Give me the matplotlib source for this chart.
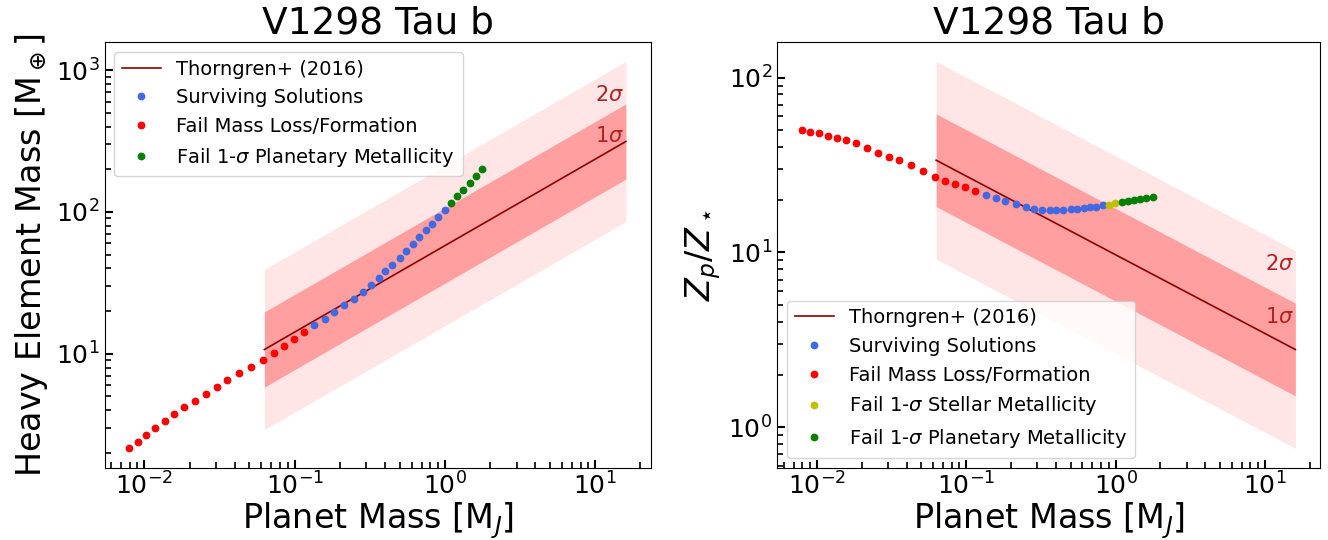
import numpy as np
import matplotlib
matplotlib.use("Agg")
import matplotlib.pyplot as plt

# ---------------- data ----------------
planet_mass = [0.00795, 0.00901, 0.01028, 0.01184, 0.01365, 0.01573, 0.01834, 0.02161,
               0.02572, 0.03031, 0.03570, 0.04254, 0.05122, 0.06166, 0.07265, 0.08465,
               0.09864, 0.1150,
               0.1354, 0.1586, 0.1829, 0.2143, 0.2497, 0.2862, 0.3228, 0.3620,
               0.4015, 0.4479, 0.4995, 0.5513, 0.6115, 0.6748, 0.7444, 0.8214,
               0.9063, 0.9945,
               1.097, 1.211, 1.329, 1.466, 1.609, 1.775]

heavy_mass = [2.153, 2.399, 2.688, 2.995, 3.354, 3.737, 4.185, 4.665,
              5.225, 5.821, 6.486, 7.265, 8.093, 9.07, 10.10, 11.32,
              12.61, 14.13,
              15.83, 17.64, 19.65, 22.00, 24.51, 27.46, 30.59, 34.28,
              38.18, 42.55, 47.67, 53.11, 59.49, 66.63, 74.23, 82.73,
              92.67, 103.2,
              115.7, 128.9, 143.6, 160.8, 179.2, 200.8]

z_ratio = [49.8, 48.9, 47.9, 46.6, 45.2, 43.7, 42.0, 39.7,
           37.1, 35.1, 33.6, 31.6, 29.1, 27.1, 25.6, 24.5,
           23.6, 22.5,
           21.3, 20.4, 19.8, 18.8, 18.1, 17.7, 17.5, 17.4,
           17.4, 17.5, 17.6, 17.7, 17.9, 18.1, 18.3, 18.6,
           18.75, 19.1,
           19.3, 19.6, 19.9, 20.1, 20.4, 20.8]

# outcome of each solution in the two panels
status_left = (["loss"] * 18) + (["ok"] * 18) + (["planet"] * 6)
status_right = (["loss"] * 18) + (["ok"] * 16) + (["star"] * 2) + (["planet"] * 6)

# Thorngren+ (2016) relations
thorn_mass_range = [0.0629, 16.0]          # M_J
thorn_mz_coef, thorn_mz_exp = 57.9, 0.61   # M_z = 57.9 M^0.61
thorn_z_coef, thorn_z_exp = 9.7, -0.45     # Zp/Z* = 9.7 M^-0.45
sigma1_dex, sigma2_dex = 0.265, 0.565

# text positions for sigma labels
sig_text_x = 10.0
left_sig_y = {"2": 668.0, "1": 346.0}
right_sig_y = {"2": 8.6, "1": 4.3}

styles = {
    "ok": dict(color="royalblue", label="Surviving Solutions"),
    "loss": dict(color="red", label="Fail Mass Loss/Formation"),
    "star": dict(color="y", label=r"Fail 1-$\sigma$ Stellar Metallicity"),
    "planet": dict(color="g", label=r"Fail 1-$\sigma$ Planetary Metallicity"),
}

# ---------------- figure ----------------
fig = plt.figure(figsize=(13.28, 5.4), dpi=100)
axL = fig.add_axes([0.0787, 0.1339, 0.4113, 0.7883])
axR = fig.add_axes([0.5853, 0.1339, 0.4087, 0.7883])

mass = np.array(planet_mass)
mband = np.logspace(np.log10(thorn_mass_range[0]), np.log10(thorn_mass_range[1]), 200)


def draw(ax, yvals, status, coef, expo, order, sig_y, ylabel):
    yline = coef * mband ** expo
    ax.fill_between(mband, yline * 10 ** (-sigma2_dex), yline * 10 ** sigma2_dex,
                    color="red", alpha=0.1, lw=0)
    ax.fill_between(mband, yline * 10 ** (-sigma1_dex), yline * 10 ** sigma1_dex,
                    color="red", alpha=0.3, lw=0)
    ax.plot(mband, yline, color="darkred", lw=1.2, label="Thorngren+ (2016)")
    yv = np.array(yvals)
    st = np.array(status)
    for key in order:
        m = st == key
        ax.plot(mass[m], yv[m], "o", ms=4.6, color=styles[key]["color"],
                label=styles[key]["label"], zorder=3)
    ax.text(sig_text_x, sig_y["2"], r"2$\sigma$", color="firebrick", fontsize=15,
            ha="left", va="center")
    ax.text(sig_text_x, sig_y["1"], r"1$\sigma$", color="firebrick", fontsize=15,
            ha="left", va="center")
    ax.set_xscale("log")
    ax.set_yscale("log")
    ax.set_title("V1298 Tau b", fontsize=27)
    ax.set_xlabel(r"Planet Mass [M$_J$]", fontsize=24, labelpad=0)
    ax.set_ylabel(ylabel, fontsize=24)
    ax.tick_params(which="major", direction="in", length=6, width=1.5, labelsize=18)
    ax.tick_params(which="minor", direction="in", length=4, width=1.2)


draw(axL, heavy_mass, status_left, thorn_mz_coef, thorn_mz_exp,
     ["ok", "loss", "planet"], left_sig_y, r"Heavy Element Mass [M$_\oplus$]")
draw(axR, z_ratio, status_right, thorn_z_coef, thorn_z_exp,
     ["ok", "loss", "star", "planet"], right_sig_y, r"$Z_p/Z_\star$")

axL.legend(loc="upper left", fontsize=14)
axR.legend(loc="lower left", fontsize=14)

fig.savefig("out.png", dpi=100)
